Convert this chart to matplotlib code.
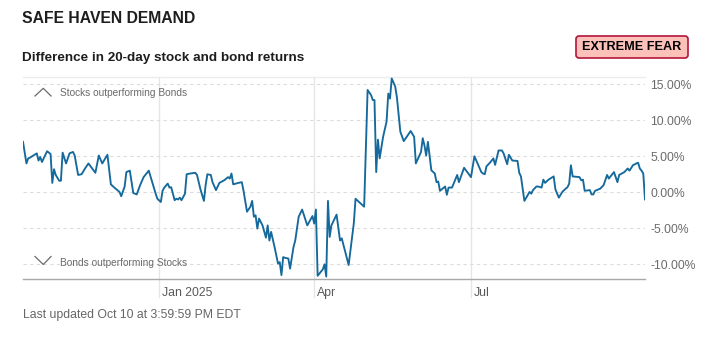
import matplotlib
matplotlib.use("Agg")
import matplotlib.pyplot as plt
import numpy as np
from matplotlib.lines import Line2D
from matplotlib.patches import FancyBboxPatch
from matplotlib.transforms import IdentityTransform

plt.rcParams['font.family'] = ['Liberation Sans', 'DejaVu Sans']

# ---------------- data ----------------
dates = [
    "2024-10-14", "2024-10-16", "2024-10-17", "2024-10-18", "2024-10-22", "2024-10-23", "2024-10-24",
    "2024-10-25", "2024-10-26", "2024-10-28", "2024-10-30", "2024-10-31",
    "2024-11-01", "2024-11-02", "2024-11-04", "2024-11-05", "2024-11-06", "2024-11-08", "2024-11-10",
    "2024-11-12", "2024-11-13", "2024-11-15", "2024-11-17", "2024-11-19", "2024-11-21", "2024-11-25",
    "2024-11-27", "2024-11-29",
    "2024-12-02", "2024-12-04", "2024-12-06", "2024-12-09", "2024-12-10", "2024-12-12", "2024-12-13",
    "2024-12-15", "2024-12-17", "2024-12-19", "2024-12-21", "2024-12-23", "2024-12-26", "2024-12-28",
    "2024-12-30", "2024-12-31",
    "2025-01-02", "2025-01-03", "2025-01-04", "2025-01-06", "2025-01-07", "2025-01-08", "2025-01-10",
    "2025-01-11", "2025-01-12", "2025-01-13", "2025-01-14", "2025-01-16", "2025-01-17", "2025-01-19",
    "2025-01-22", "2025-01-23", "2025-01-25", "2025-01-27", "2025-01-28", "2025-01-29", "2025-01-31",
    "2025-02-01", "2025-02-03", "2025-02-05", "2025-02-08", "2025-02-10", "2025-02-11", "2025-02-12",
    "2025-02-13", "2025-02-16", "2025-02-18", "2025-02-19", "2025-02-21", "2025-02-23", "2025-02-24",
    "2025-02-25", "2025-02-26", "2025-02-27", "2025-02-28",
    "2025-03-02", "2025-03-04", "2025-03-05", "2025-03-06", "2025-03-07", "2025-03-09", "2025-03-11",
    "2025-03-12", "2025-03-13", "2025-03-14", "2025-03-15", "2025-03-17", "2025-03-18", "2025-03-20",
    "2025-03-21", "2025-03-23", "2025-03-25", "2025-03-28", "2025-03-31",
    "2025-04-01", "2025-04-02", "2025-04-03", "2025-04-06", "2025-04-07", "2025-04-08", "2025-04-09",
    "2025-04-10", "2025-04-11", "2025-04-14", "2025-04-16", "2025-04-17", "2025-04-21", "2025-04-24",
    "2025-04-25", "2025-04-27", "2025-04-30",
    "2025-05-02", "2025-05-04", "2025-05-05", "2025-05-06", "2025-05-07", "2025-05-08", "2025-05-09",
    "2025-05-11", "2025-05-13", "2025-05-14", "2025-05-15", "2025-05-16", "2025-05-18", "2025-05-19",
    "2025-05-21", "2025-05-23", "2025-05-27", "2025-05-29", "2025-05-30",
    "2025-06-02", "2025-06-03", "2025-06-04", "2025-06-05", "2025-06-06", "2025-06-08", "2025-06-10",
    "2025-06-11", "2025-06-12", "2025-06-13", "2025-06-16", "2025-06-17", "2025-06-18", "2025-06-20",
    "2025-06-23", "2025-06-24", "2025-06-27",
    "2025-07-01", "2025-07-03", "2025-07-07", "2025-07-08", "2025-07-09", "2025-07-10", "2025-07-12",
    "2025-07-14", "2025-07-15", "2025-07-17", "2025-07-19", "2025-07-20", "2025-07-22", "2025-07-23",
    "2025-07-25", "2025-07-28", "2025-07-29", "2025-07-30",
    "2025-08-01", "2025-08-04", "2025-08-05", "2025-08-06", "2025-08-08", "2025-08-09", "2025-08-11",
    "2025-08-12", "2025-08-13", "2025-08-15", "2025-08-18", "2025-08-19", "2025-08-21", "2025-08-23",
    "2025-08-25", "2025-08-26", "2025-08-27", "2025-08-28", "2025-08-29",
    "2025-09-02", "2025-09-03", "2025-09-04", "2025-09-05", "2025-09-08", "2025-09-09", "2025-09-10",
    "2025-09-11", "2025-09-14", "2025-09-16", "2025-09-18", "2025-09-19", "2025-09-22", "2025-09-24",
    "2025-09-25", "2025-09-28", "2025-09-29", "2025-09-30",
    "2025-10-01", "2025-10-03", "2025-10-05", "2025-10-06", "2025-10-07", "2025-10-08", "2025-10-09",
    "2025-10-10",
]

values = [
    7.0, 4.0, 4.7, 4.8, 5.4, 4.4, 4.9, 4.2, 4.7, 5.7, 5.3, 1.3,
    3.2, 2.4, 1.6, 1.6, 5.5, 4.0, 5.4, 5.6, 5.1, 2.4, 2.5, 3.3, 4.0, 2.7, 5.1, 4.0,
    5.2, 1.1, 0.65, 0.05, -0.55, 0.8, 2.8, 3.0,
    -0.1, -0.3, 1.0, 2.1, 3.0, 1.4, -0.2, -0.9,
    -1.35, 0.2, 0.65, 1.2, 0.65, 0.7, -1.1, -0.9, -1.0, -0.75, -1.1, -0.2, 2.5, 2.6, 2.7, 2.4,
    0.4, -1.2, 1.0, 2.5, 2.4,
    1.4, 0.3, 1.3, 1.7, 2.1, 1.9, 2.6, 1.1, 1.3, 1.4, 0.2, -2.7, -2.0, -1.2, -3.4, -3.2, -5.05, -3.65,
    -4.6, -6.3, -4.6, -6.7, -5.5, -7.6, -9.9, -9.7, -11.5, -9.0, -9.1, -9.2, -10.6, -7.6, -6.7,
    -3.4, -2.4, -4.6, -3.3,
    -4.35, -2.4, -11.6, -10.7, -10.0, -11.7, -1.2, -6.2, -4.6, -3.1, -6.7, -6.4, -10.1, -4.3,
    -0.9, -1.35, -2.0,
    14.2, 13.5, 12.8, 12.8, 2.8, 7.3, 4.7, 7.7, 9.8, 13.7, 13.0, 15.8, 14.7, 13.2, 8.4, 7.1,
    8.5, 7.7, 4.0,
    5.6, 7.5, 6.5, 5.1, 7.0, 3.05, 2.6, 1.4, 1.5, 0.2, 0.8, -0.35, 0.65, 0.65, 2.4, 1.4, 3.4,
    2.1, 5.0, 2.8, 2.6, 2.5, 3.6, 4.1, 4.7, 3.8, 5.8, 5.8, 5.35, 3.9, 5.2, 4.4, 4.35, 2.7, 2.2,
    -1.2, 0.05, -0.2, 0.3, 0.8, 0.8, 0.65, 1.75, 1.3, 1.75, 2.2, 0.4, -0.75, 0.05, 0.5, 0.7,
    1.2, 3.75, 2.2,
    2.1, 1.65, 1.75, 0.2, 0.3, -0.3, -0.3, 0.2, 0.5, 1.0, 2.4, 1.9, 2.8, 1.4, 2.4, 2.8, 3.05, 3.3,
    3.0, 3.75, 4.0, 4.1, 3.3, 3.0, 2.6, -1.0,
]

y_ticks = [15, 10, 5, 0, -5, -10]
x_tick_dates = ["2025-01-01", "2025-04-01", "2025-07-01"]
x_tick_labels = ["Jan 2025", "Apr", "Jul"]

title = "SAFE HAVEN DEMAND"
subtitle = "Difference in 20-day stock and bond returns"
badge = "EXTREME FEAR"
top_note = "Stocks outperforming Bonds"
bottom_note = "Bonds outperforming Stocks"
footer = "Last updated Oct 10 at 3:59:59 PM EDT"

# ---------------- figure ----------------
W, H = 707, 344
fig = plt.figure(figsize=(W / 100, H / 100), dpi=100)
fig.patch.set_facecolor("white")

L, R, T, B = 23, 645, 77, 278.7
ax = fig.add_axes([L / W, 1 - B / H, (R - L) / W, (B - T) / H])

x = np.array(dates, dtype="datetime64[D]")
ax.plot(x, values, color="#15699b", lw=1.35, zorder=3, solid_joinstyle="round")

ax.set_xlim(x[0], x[-1])
ax.set_ylim(-12, 16)

for s in ["left", "right"]:
    ax.spines[s].set_visible(False)
ax.spines["top"].set_color("#ececec")
ax.spines["top"].set_linewidth(1)
ax.spines["bottom"].set_color("#a8a8a8")
ax.spines["bottom"].set_linewidth(1)

ax.yaxis.tick_right()
ax.set_yticks(y_ticks)
ax.set_yticklabels([f"{v:.2f}%" for v in y_ticks])
ax.tick_params(axis="y", length=0, pad=4, labelsize=8.7, labelcolor="#6b6b6b")
for v in y_ticks:
    ax.axhline(v, color="#dcdcdc", lw=0.8, dashes=(3, 3), zorder=1)

ax.set_xticks([])
xt = np.array(x_tick_dates, dtype="datetime64[D]")
for d, lab in zip(xt, x_tick_labels):
    ax.axvline(d, ymin=-0.09, ymax=1, color="#e6e6e6", lw=1, clip_on=False, zorder=0)
    ax.annotate(lab, xy=(d, 0), xycoords=("data", "axes fraction"),
                xytext=(3, -14), textcoords="offset pixels",
                ha="left", va="center", fontsize=8.8, color="#5a5a5a")

# in-plot notes with chevrons
def fx(px):
    return px / W

def fy(py):
    return 1 - py / H

fig.add_artist(Line2D([fx(35), fx(43.3), fx(51)], [fy(96), fy(88.3), fy(96)],
                      transform=fig.transFigure, color="#6b6b6b", lw=0.9))
fig.text(fx(59.7), fy(92.7), top_note, ha="left", va="center", fontsize=7.3, color="#6b6b6b")
fig.add_artist(Line2D([fx(35), fx(43.3), fx(51)], [fy(256.5), fy(264.5), fy(256.5)],
                      transform=fig.transFigure, color="#6b6b6b", lw=0.9))
fig.text(fx(59.7), fy(262.7), bottom_note, ha="left", va="center", fontsize=7.3, color="#6b6b6b")

# titles
fig.text(fx(22), fy(18.5), title, ha="left", va="center", fontsize=11.3,
         fontweight="bold", color="#1e1e1e")
fig.text(fx(22), fy(58.5), subtitle, ha="left", va="center", fontsize=9.7,
         fontweight="bold", color="#1e1e1e")

# badge
bx0, bx1, by0, by1 = 576, 688, 36, 58
patch = FancyBboxPatch((bx0, H - by1), bx1 - bx0, by1 - by0,
                       boxstyle="round,pad=0,rounding_size=3",
                       transform=IdentityTransform(), facecolor="#fcc2ba",
                       edgecolor="#b3163c", lw=1.2)
fig.add_artist(patch)
fig.text(fx((bx0 + bx1) / 2), fy((by0 + by1) / 2), badge, ha="center", va="center",
         fontsize=9.1, fontweight="bold", color="#000000")

# footer
fig.text(fx(23), fy(315), footer, ha="left", va="center", fontsize=8.85, color="#666666")

fig.savefig("out.png", dpi=100)
